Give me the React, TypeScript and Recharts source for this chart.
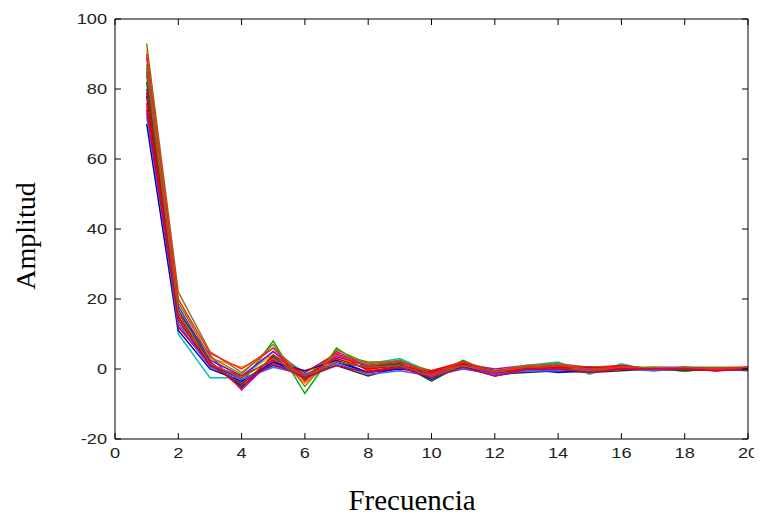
import React from "react";
import { LineChart, Line, XAxis, YAxis } from "recharts";

const frequencies = [1, 2, 3, 4, 5, 6, 7, 8, 9, 10, 11, 12, 13, 14, 15, 16, 17, 18, 19, 20];
const xTicks = [0, 2, 4, 6, 8, 10, 12, 14, 16, 18, 20];
const yTicks = [-20, 0, 20, 40, 60, 80, 100];

const s1 = [91, 20, 3, -2, 4, -1, 3, 1, 2, -1, 1.5, -1, 0.5, 1, 0, 0.5, 0, 0, 0.3, 0.5];
const s2 = [86, 14, 1, -4, 8, -7, 6, 0, 2.5, -2, 2.5, -1.5, 0, 1.5, -1, 1, 0, -0.5, 0, 0];
const s3 = [78, 12, 2, -5, 2, -2, 2, -1, 1, -3, 1, -2, -0.5, 0, 0.5, 0, 0.3, 0, -0.3, 0];
const s4 = [72, 10, -2.5, -2.5, 5, -1, 4, 1.5, 3, -1, 2, -1, 1, 2, -1.5, 1.5, -0.5, 0.5, 0, 0.5];
const s5 = [80, 16, 4, -6, 3, -3, 5, 0.5, 1.5, -2.5, 1.5, 0, 1, 0, -0.5, 0, 0.5, 0.5, -0.5, 0];
const s6 = [93, 22, 5, -1, 6, -2, 4, 2, 2, -0.5, 2, -0.5, 1, 1.5, 0.5, 1, 0, 0.5, 0.5, 0.5];
const s7 = [84, 15, 1.5, -3, 1, -1.5, 1, -2, 0.5, -1.5, 0.5, -1.5, -1, -0.5, -1, -0.5, 0, -0.5, 0, -0.5];
const s8 = [75, 13, 3, 0.5, 4, -4, 3, 0, 1, -2, 1, -2, 0, 0.5, 0, 0.5, -0.5, 0, 0, 0];
const s9 = [70, 11, 0, -3.5, 2, -0.5, 2.5, -1, 0, -1, 0.5, -1, 0, -1, -0.5, 0, 0, 0.3, 0, 0];
const s10 = [89, 18, 2.5, -2, 5, -2.5, 3.5, 1, 2, -1.5, 1, -1.5, 0.5, 1, 0, 0, 0, 0, 0, 0.3];
const s11 = [82, 17, 2, -4.5, 3.5, -3, 2, 0.5, 1.5, -3.5, 1.5, -0.5, 0, 0.5, -0.5, 0.5, 0, -0.5, 0, 0];
const s12 = [76, 12, 1, -2, 2.5, -1, 4.5, -0.5, 0.5, -0.5, 2, -1, 0.5, 0, 0, 1, 0, 0, -0.5, 0.5];
const s13 = [87, 19, 3.5, -1.5, 7, -5, 5.5, 1.5, 2.5, -1, 1, -1, 1, 1.5, -1, 0.5, 0.5, 0, 0, 0];
const s14 = [73, 13, 0.5, -3, 0.5, -1.5, 1.5, -1.5, -0.5, -2, 0, -1.5, -0.5, -0.5, 0, 0, -0.5, 0, 0, -0.3];
const s15 = [79, 15, 2, -5.5, 4, -2, 3, 0, 1, -1, 1.5, -1, 0, 0.5, 0.5, 0, 0, 0, 0, 0];
const s16 = [85, 16, 1.5, -2.5, 3, -2, 2, 0.5, 1, -2, 1, -0.5, 0.5, 0, -0.5, 0.5, 0, 0.5, 0, 0];
const s17 = [90, 20, 4.5, 0, 6, -3.5, 4, 1, 2, -1.5, 2, -1, 0.5, 1, 0, 0.5, 0, 0, 0, 0.5];
const s18 = [74, 14, 1, -4, 1.5, -2.5, 1, -1, 0.5, -2.5, 0.5, -2, 0, 0, -1, 0, 0, 0, -0.5, 0];

const seriesList = [s1, s2, s3, s4, s5, s6, s7, s8, s9, s10, s11, s12, s13, s14, s15, s16, s17, s18];
const colors = [
  "#c8c800", "#00a000", "#0000ff", "#00bfbf", "#bf00bf", "#8b6914", "#303030", "#ff7f00", "#0000c0",
  "#7f00ff", "#006400", "#ff0000", "#808000", "#4060ff", "#e00000", "#a0522d", "#ff2020", "#d00040",
];

const data = frequencies.map((f, i) => {
  const row: Record<string, number> = { f };
  seriesList.forEach((s, k) => {
    row["s" + (k + 1)] = s[i];
  });
  return row;
});

const PL = 107;
const PR = 740;
const PT = 11;
const PB = 431;
const TL = 6;
const tickFont = { fontFamily: "'Liberation Sans', Arial, sans-serif", fontSize: 14, fill: "#222" };
const SX = 1.3;

const BottomTick = (props: any) => {
  const { x, payload } = props;
  return (
    <g>
      <line x1={x} y1={PB} x2={x} y2={PB - TL} stroke="#000" />
      <text
        x={0}
        y={0}
        textAnchor="middle"
        transform={`translate(${x} ${PB + 19}) scale(${SX} 1)`}
        {...tickFont}
      >
        {payload.value}
      </text>
    </g>
  );
};
const TopTick = (props: any) => {
  const { x } = props;
  return <line x1={x} y1={PT} x2={x} y2={PT + TL} stroke="#000" />;
};
const LeftTick = (props: any) => {
  const { y, payload } = props;
  return (
    <g>
      <line x1={PL} y1={y} x2={PL + TL} y2={y} stroke="#000" />
      <text
        x={0}
        y={0}
        textAnchor="end"
        transform={`translate(${PL - 8} ${y + 5}) scale(${SX} 1)`}
        {...tickFont}
      >
        {payload.value}
      </text>
    </g>
  );
};
const RightTick = (props: any) => {
  const { y } = props;
  return <line x1={PR} y1={y} x2={PR - TL} y2={y} stroke="#000" />;
};

export default function App() {
  return (
    <div style={{ width: 754, height: 508, position: "relative", background: "#fff" }}>
      <LineChart width={754} height={508} data={data} margin={{ top: 10, right: 13, bottom: 47, left: 47 }}>
        <XAxis
          dataKey="f"
          type="number"
          domain={[0, 20]}
          ticks={xTicks}
          interval={0}
          tick={<BottomTick />}
          tickLine={false}
          tickSize={0}
          height={30}
          axisLine={{ stroke: "#000" }}
          allowDataOverflow
        />
        <XAxis
          xAxisId="top"
          orientation="top"
          dataKey="f"
          type="number"
          domain={[0, 20]}
          ticks={xTicks}
          interval={0}
          tick={<TopTick />}
          tickLine={false}
          tickSize={0}
          height={1}
          axisLine={{ stroke: "#000" }}
          allowDataOverflow
        />
        <YAxis
          type="number"
          domain={[-20, 100]}
          ticks={yTicks}
          interval={0}
          tick={<LeftTick />}
          tickLine={false}
          tickSize={0}
          width={60}
          axisLine={{ stroke: "#000" }}
          allowDataOverflow
        />
        <YAxis
          yAxisId="right"
          orientation="right"
          type="number"
          domain={[-20, 100]}
          ticks={yTicks}
          interval={0}
          tick={<RightTick />}
          tickLine={false}
          tickSize={0}
          width={1}
          axisLine={{ stroke: "#000" }}
          allowDataOverflow
        />
        {seriesList.map((_, k) => (
          <Line
            key={k}
            type="linear"
            dataKey={"s" + (k + 1)}
            stroke={colors[k]}
            strokeWidth={1.4}
            dot={false}
            isAnimationActive={false}
          />
        ))}
        <text
          x={404}
          y={502}
          textAnchor="middle"
          fontFamily="'Liberation Serif', 'Times New Roman', serif"
          fontSize={29}
          fill="#000"
        >
          Frecuencia
        </text>
        <text
          x={27}
          y={228}
          textAnchor="middle"
          transform="rotate(-90 27 228)"
          fontFamily="'Liberation Serif', 'Times New Roman', serif"
          fontSize={28}
          fill="#000"
        >
          Amplitud
        </text>
      </LineChart>
    </div>
  );
}
